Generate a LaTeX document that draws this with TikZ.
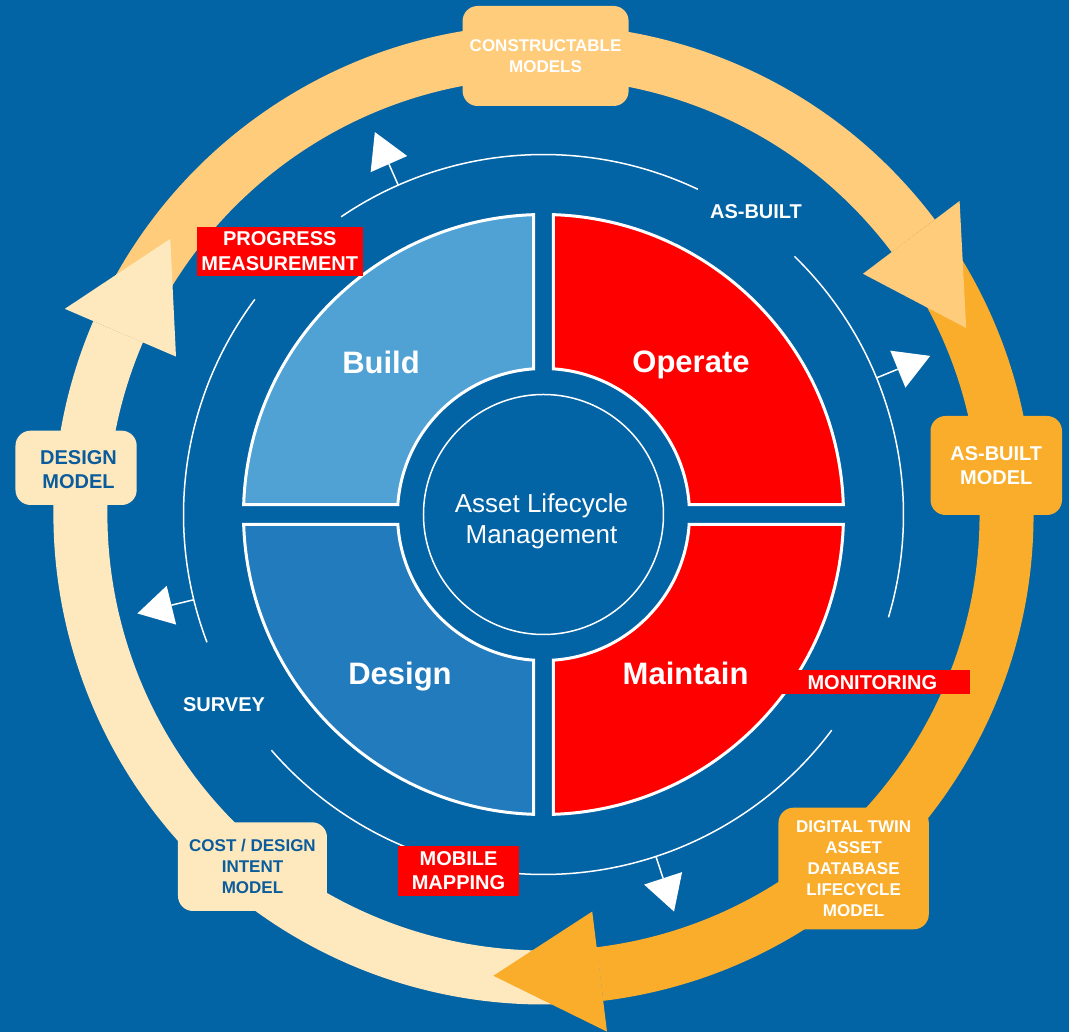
\documentclass[tikz,border=0pt]{standalone}
\usepackage{fontspec}
\setmainfont{Liberation Sans}
\definecolor{bg}{HTML}{0263A5}
\definecolor{buildc}{HTML}{50A2D4}
\definecolor{designc}{HTML}{227BBD}
\definecolor{redc}{HTML}{FF0000}
\definecolor{lightor}{HTML}{FECC7A}
\definecolor{darkor}{HTML}{F9AD2A}
\definecolor{paleor}{HTML}{FEE8BE}
\definecolor{txtblue}{HTML}{0A5C9C}
\begin{document}
\begin{tikzpicture}[x=1pt,y=1pt,
  quad/.style={draw=white,line width=3pt,line join=miter},
  band/.style={line width=54pt,line cap=butt},
  thinarc/.style={draw=white,line width=1.5pt},
  ringbox/.style={rounded corners=15pt,inner sep=0pt,align=center,font=\fontsize{17}{21}\selectfont\bfseries},
  ringboxb/.style={rounded corners=15pt,inner sep=0pt,align=center,font=\fontsize{20}{23.5}\selectfont\bfseries},
  redbox/.style={fill=redc,inner sep=0pt,align=center,text=white,font=\fontsize{20}{24.5}\selectfont\bfseries},
  lbl/.style={text=white,inner sep=0pt,font=\fontsize{20}{24}\selectfont\bfseries},
  quadlbl/.style={text=white,inner sep=0pt,font=\fontsize{31}{37}\selectfont\bfseries}]
\fill[bg] (-543.5,-517.5) rectangle (525.5,514.5);
\useasboundingbox (-543.5,-517.5) rectangle (525.5,514.5);
% big ring bands
\draw[band,paleor] (156.75:463) arc[start angle=156.75,end angle=277,radius=463];
\draw[band,lightor] (37:463) arc[start angle=37,end angle=156.75,radius=463];
\draw[band,darkor] (-83:463) arc[start angle=-83,end angle=37,radius=463];
% arrowheads
\fill[paleor] (156.75:521) -- (143.55:464) -- (156.75:400) -- cycle;
\fill[lightor] (37:521) -- (23.8:462) -- (37:400) -- cycle;
\fill[darkor] (-83:521) -- (-96.2:464) -- (-83:400) -- cycle;
% ring boxes
\node[ringbox,fill=lightor,text=white,minimum width=166pt,minimum height=100pt] (cm) at (2.1,458.5) {CONSTRUCTABLE\\MODELS};
\node[ringboxb,fill=darkor,text=white,minimum width=131.5pt,minimum height=99pt] (abm) at (452.75,49) {AS-BUILT\\MODEL};
\node[ringbox,fill=darkor,text=white,minimum width=150.3pt,minimum height=121.6pt] (dt) at (310.15,-354) {DIGITAL TWIN\\ASSET\\DATABASE\\LIFECYCLE\\MODEL};
\node[ringbox,fill=paleor,text=txtblue,minimum width=149pt,minimum height=88.7pt] (cost) at (-291,-352.15) {COST / DESIGN\\INTENT\\MODEL};
\node[ringboxb,fill=paleor,text=txtblue,minimum width=121.2pt,minimum height=74.3pt] (dm) at (-467.4,46.65) {};
\node[ringboxb,text=txtblue] (dmt) at (-465,45) {DESIGN\\MODEL};
% thin arcs
\draw[thinarc] (64.6:360) arc[start angle=64.6,end angle=124.2,radius=360];
\draw[thinarc] (-16.6:360) arc[start angle=-16.6,end angle=45.8,radius=360];
\draw[thinarc] (220.9:360) arc[start angle=220.9,end angle=323.2,radius=360];
\draw[thinarc] (143.3:360) arc[start angle=143.3,end angle=200.8,radius=360];
% arrow markers
\foreach \a in {113.8,22.3,-71.8,193.7}{
  \begin{scope}[rotate=\a]
    \draw[white,line width=1.5pt] (360,0) -- (383,0);
    \fill[white] (383,-20) -- (418,0) -- (383,20) -- cycle;
  \end{scope}}
% quadrants
\foreach \r/\c in {0/redc,90/buildc,180/designc,270/redc}{
  \begin{scope}[rotate=\r]
    \filldraw[quad,fill=\c] (1.872:300) arc[start angle=1.872,end angle=88.128,radius=300]
      -- (86.15:146) arc[start angle=86.15,end angle=3.85,radius=146] -- cycle;
  \end{scope}}
% centre circle
\draw[white,line width=1.5pt] (0,0) circle[radius=120];
\node[text=white,align=center,inner sep=0pt,font=\fontsize{26}{31}\selectfont] (alm) at (-2,-7) {Asset Lifecycle\\Management};
% quadrant labels
\node[quadlbl] (build) at (-162.5,152.5) {Build};
\node[quadlbl] (operate) at (147.5,150) {Operate};
\node[quadlbl] (design) at (-143.5,-162) {Design};
\node[quadlbl] (maintain) at (142.1,-158.5) {Maintain};
% labels
\node[lbl] (asbuilt) at (212.5,302.5) {AS-BUILT};
\node[lbl] (survey) at (-319.5,-190.5) {SURVEY};
% red boxes
\node[redbox,minimum width=165.6pt,minimum height=49.3pt] (pm) at (-263.7,263.15) {PROGRESS\\MEASUREMENT};
\node[redbox,minimum width=194.7pt,minimum height=24.3pt] (mon) at (328.9,-167.65) {MONITORING};
\node[redbox,minimum width=121.6pt,minimum height=49.7pt] (mm) at (-85,-356.35) {MOBILE\\MAPPING};
\end{tikzpicture}
\end{document}
